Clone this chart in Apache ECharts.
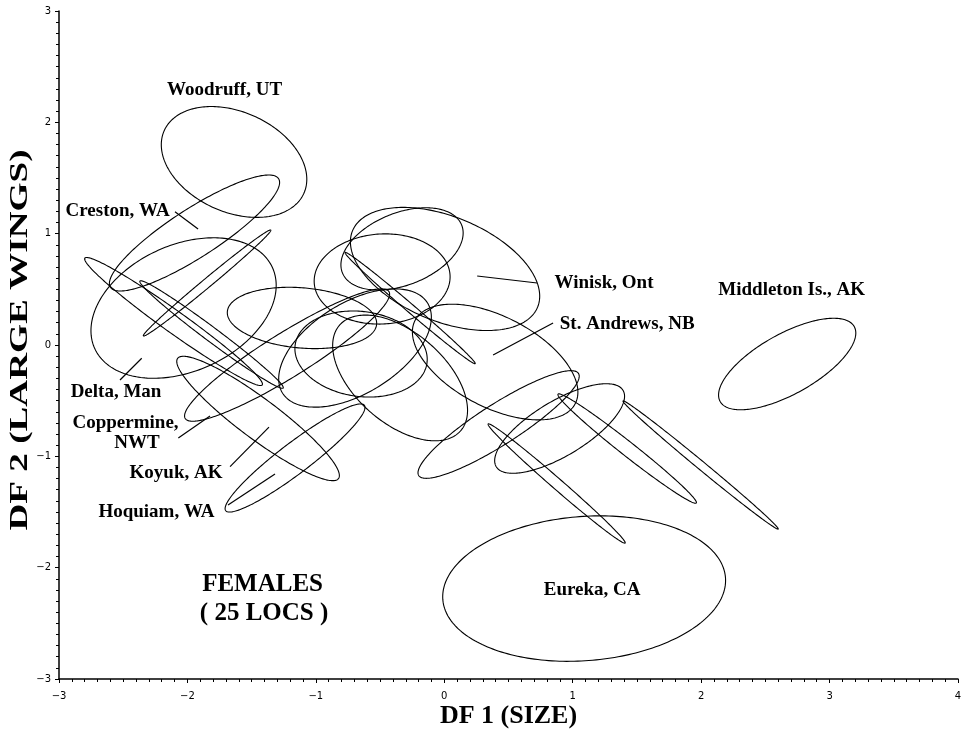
<!DOCTYPE html>
<html>
<head>
<meta charset="utf-8">
<script src="https://cdn.jsdelivr.net/npm/echarts@6/dist/echarts.min.js"></script>
<style>
  html, body { margin: 0; padding: 0; background: #fff; }
  #chart { width: 962px; height: 734px; }
</style>
</head>
<body>
<div id="chart"></div>
<script>
// Confidence ellipses of the 25 female localities on the first two
// discriminant functions. One entry per locality, in DF units.
const centerX   = [-1.637, -1.945, -2.030, -1.847, -2.108, -1.812, -1.224, -1.450, -1.162, -1.108,
                   -0.329, -0.484,  0.006, -0.266, -0.695, -0.648, -0.344,  0.396,  0.423,  0.898,
                    0.875,  1.424,  1.996,  1.089,  2.670];
const centerY   = [ 1.644,  1.006,  0.332,  0.557,  0.211,  0.094, -0.090, -0.660, -1.015,  0.243,
                    0.863,  0.593,  0.683,  0.332, -0.027, -0.081, -0.296, -0.153, -0.714, -0.750,
                   -1.244, -0.930, -1.078, -2.188, -0.171];
const semiMajor = [ 0.616,  0.817,  0.786,  0.687,  0.895,  0.736,  0.977,  0.827,  0.718,  0.584,
                    0.513,  0.530,  0.800,  0.711,  0.697,  0.520,  0.672,  0.729,  0.773,  0.602,
                    0.755,  0.727,  0.834,  1.105,  0.622];
const semiMinor = [ 0.435,  0.207,  0.548,  0.038,  0.094,  0.060,  0.190,  0.170,  0.130,  0.270,
                    0.316,  0.404,  0.457,  0.035,  0.387,  0.380,  0.378,  0.392,  0.174,  0.235,
                    0.045,  0.060,  0.035,  0.647,  0.260];
// orientation of the major axis, degrees counter-clockwise from the DF 1 axis
const tiltDeg   = [-33.7,  37.2,  33.7,  43.8, -39.6, -40.8,  36.0, -41.1,  41.5,  -6.0,
                    28.3,   5.0, -28.3, -44.6,  38.9, -11.5, -49.0, -33.7,  36.8,  36.1,
                   -45.1, -42.3, -43.6,   5.8,  34.3];

// Axis ticks
const xTicks = [-3, -2, -1, 0, 1, 2, 3, 4];
const yTicks = [-3, -2, -1, 0, 1, 2, 3];

// Locality names and captions written on the plot (DF coordinates of the text centre)
const labelText = ['Woodruff, UT', 'Creston, WA', 'Delta, Man', 'Coppermine,', 'NWT', 'Koyuk, AK',
                   'Hoquiam, WA', 'Winisk, Ont', 'St. Andrews, NB', 'Middleton Is., AK', 'Eureka, CA'];
const labelX    = [-1.711, -2.544, -2.556, -2.482, -2.393, -2.089, -2.241, 1.244, 1.424, 2.705, 1.151];
const labelY    = [ 2.290,  1.204, -0.422, -0.700, -0.880, -1.150, -1.500, 0.557, 0.189, 0.494, -2.200];

const captionText = ['FEMALES', '( 25 LOCS )'];
const captionX    = [-1.415, -1.403];
const captionY    = [-2.156, -2.416];

// Leader lines from the names to their ellipses: [x1, y1] -> [x2, y2]
const leaderFrom = [[-2.097, 1.197], [-2.525, -0.314], [-2.071, -0.835], [-1.668, -1.093],
                    [-1.684, -1.437], [0.723, 0.557], [0.847, 0.198]];
const leaderTo   = [[-1.917, 1.042], [-2.356, -0.119], [-1.824, -0.638], [-1.365, -0.737],
                    [-1.318, -1.159], [0.256, 0.620], [0.380, -0.090]];

const ellipseData = centerX.map((cx, i) => [cx, centerY[i], semiMajor[i], semiMinor[i], tiltDeg[i]]);
const labelData = labelText.map((t, i) => [labelX[i], labelY[i], t]);
const captionData = captionText.map((t, i) => [captionX[i], captionY[i], t]);
const leaderData = leaderFrom.map((p, i) => [p[0], p[1], leaderTo[i][0], leaderTo[i][1]]);

const serif = '"Liberation Serif", "Times New Roman", serif';
const tickFmt = v => (v < 0 ? '\u2212' + (-v) : String(v));

const chart = echarts.init(document.getElementById('chart'), null, { renderer: 'canvas' });

function textSeries(name, data, texts, font) {
  return {
    name: name,
    type: 'custom',
    coordinateSystem: 'cartesian2d',
    data: data,
    encode: { x: 0, y: 1 },
    silent: true,
    renderItem: (params, api) => {
      const p = api.coord([api.value(0), api.value(1)]);
      return {
        type: 'text',
        x: p[0], y: p[1],
        style: {
          text: texts[params.dataIndex],
          font: font,
          fill: '#000', align: 'center', verticalAlign: 'middle'
        }
      };
    }
  };
}

chart.setOption({
  animation: false,
  backgroundColor: '#fff',
  grid: { left: 59, right: 4, top: 11, bottom: 55, containLabel: false, outerBoundsMode: 'none' },
  graphic: [{
    // vertical axis title, stretched along its reading direction
    type: 'text',
    x: 20, y: 340,
    rotation: Math.PI / 2,
    scaleX: 1.43,
    silent: true,
    style: {
      text: 'DF 2 (LARGE WINGS)',
      font: 'bold 26px ' + serif,
      fill: '#000', align: 'center', verticalAlign: 'middle'
    }
  }],
  xAxis: {
    type: 'value', min: xTicks[0], max: xTicks[xTicks.length - 1], interval: 1,
    name: 'DF 1 (SIZE)', nameLocation: 'middle', nameGap: 24, nameMoveOverlap: false,
    nameTextStyle: { fontFamily: serif, fontWeight: 'bold', fontSize: 26, color: '#000' },
    axisLine: { show: true, onZero: false, lineStyle: { color: '#000', width: 1.5 } },
    axisTick: { show: true, length: 4, lineStyle: { color: '#000' } },
    minorTick: { show: true, splitNumber: 10, length: 3, lineStyle: { color: '#000' } },
    splitLine: { show: false },
    axisLabel: { formatter: tickFmt, fontFamily: 'DejaVu Sans', fontSize: 10, color: '#000', margin: 12 }
  },
  yAxis: {
    type: 'value', min: yTicks[0], max: yTicks[yTicks.length - 1], interval: 1,
    axisLine: { show: true, onZero: false, lineStyle: { color: '#000', width: 1.5 } },
    axisTick: { show: true, length: 4, lineStyle: { color: '#000' } },
    minorTick: { show: true, splitNumber: 10, length: 3, lineStyle: { color: '#000' } },
    splitLine: { show: false },
    axisLabel: { formatter: tickFmt, fontFamily: 'DejaVu Sans', fontSize: 10, color: '#000', margin: 8 }
  },
  series: [
    {
      name: 'ellipses',
      type: 'custom',
      coordinateSystem: 'cartesian2d',
      data: ellipseData,
      encode: { x: 0, y: 1 },
      silent: true,
      renderItem: (params, api) => {
        const cx = api.value(0), cy = api.value(1);
        const a = api.value(2), b = api.value(3);
        const t = api.value(4) * Math.PI / 180;
        const ct = Math.cos(t), st = Math.sin(t);
        const pts = [];
        const n = 240;
        for (let k = 0; k < n; k++) {
          const s = 2 * Math.PI * k / n;
          const ex = a * Math.cos(s), ey = b * Math.sin(s);
          pts.push(api.coord([cx + ex * ct - ey * st, cy + ex * st + ey * ct]));
        }
        return {
          type: 'polygon',
          shape: { points: pts },
          style: { fill: null, stroke: '#000', lineWidth: 1.1 }
        };
      }
    },
    {
      name: 'leaders',
      type: 'custom',
      coordinateSystem: 'cartesian2d',
      data: leaderData,
      encode: { x: [0, 2], y: [1, 3] },
      silent: true,
      renderItem: (params, api) => {
        const p1 = api.coord([api.value(0), api.value(1)]);
        const p2 = api.coord([api.value(2), api.value(3)]);
        return {
          type: 'line',
          shape: { x1: p1[0], y1: p1[1], x2: p2[0], y2: p2[1] },
          style: { stroke: '#000', lineWidth: 1.2 }
        };
      }
    },
    textSeries('names', labelData, labelText, 'bold 19px ' + serif),
    textSeries('caption', captionData, captionText, 'bold 25px ' + serif)
  ]
});
</script>
</body>
</html>
